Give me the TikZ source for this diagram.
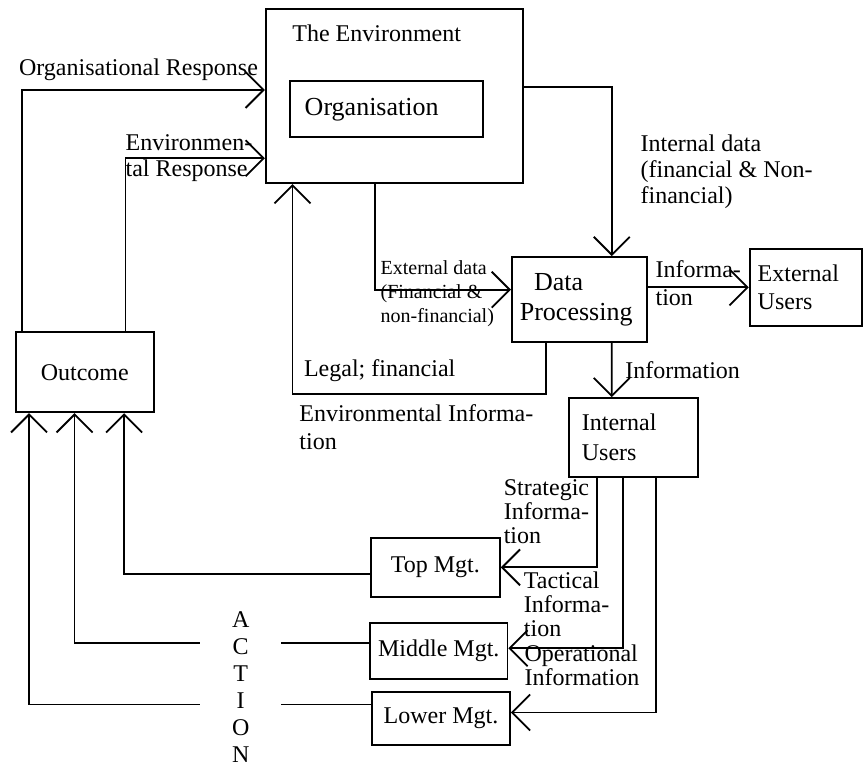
\documentclass[tikz,border=0pt]{standalone}
\usepackage{fontspec}
\setmainfont{Liberation Serif}
\usetikzlibrary{shapes.geometric, arrows, arrows.meta}

\begin{document}
\begin{tikzpicture}[node distance=3cm, line width=0.9pt, font=\fontsize{12}{14}\selectfont,
        >={Straight Barb[length=9pt, width=18pt]},
        box/.style={draw, rectangle, inner xsep=4pt},
        lbl/.style={align=left, inner sep=2pt, font=\fontsize{12}{13}\selectfont}]
        \useasboundingbox (0,0) rectangle (15.20,-13.51);

        \node[box, minimum width=4.52cm, minimum height=3.06cm] (env) at (6.93,-1.69) {};
        \node[node distance=1.11cm, above of=env, xshift=-0.31cm] (envtitle) {The Environment};
        \node[box, minimum height=0.98cm, text width=2.87cm, inner xsep=0.26cm, align=left, font=\fontsize{13}{15}\selectfont, node distance=0.23cm, below of=env, xshift=-0.14cm] (org) {Organisation};
        \node[box, minimum height=1.49cm, text width=2.09cm, align=left, font=\fontsize{13}{15}\selectfont, node distance=3.57cm, below of=env, xshift=3.25cm] (dp) {\hspace*{0.25cm}Data\\Processing};
        \node[box, minimum height=1.35cm, text width=1.69cm, align=left, node distance=3.98cm, right of=dp, yshift=0.21cm] (ext) {External\\Users};
        \node[box, minimum height=1.39cm, text width=1.81cm, inner xsep=0.23cm, align=left, font=\fontsize{12}{15}\selectfont, node distance=2.43cm, below of=dp, xshift=0.95cm] (intu) {Internal\\Users};
        \node[box, minimum width=2.42cm, minimum height=1.41cm, node distance=5.44cm, left of=env, yshift=-4.85cm] (outcome) {Outcome};
        \node[box, minimum width=2.27cm, minimum height=1.04cm, node distance=2.28cm, below of=intu, xshift=-3.48cm] (top) {Top Mgt.};
        \node[box, minimum width=2.35cm, minimum height=0.98cm, node distance=1.47cm, below of=top, xshift=0.06cm] (mid) {Middle Mgt.};
        \node[box, minimum width=2.42cm, minimum height=0.93cm, node distance=1.18cm, below of=mid, xshift=0.04cm] (low) {Lower Mgt.};
        \node[minimum width=1.4cm, inner ysep=0pt, align=center, font=\fontsize{12}{13.5}\selectfont, node distance=3.48cm, left of=mid, yshift=-0.63cm] (action) {A\\C\\T\\I\\O\\N};

        % responses of the outcome
        \draw[->] ([xshift=0.12cm]outcome.north west) |- ([yshift=0.11cm]env.west)
            node[pos=0.74, above, yshift=1pt] {Organisational Response};
        \draw[->] ([xshift=-0.51cm]outcome.north east) |- ([yshift=-1.09cm]env.west)
            node[pos=0.75, xshift=-0.11cm, lbl] {Environmen-\\tal Response};

        % data into processing
        \draw[->] ([yshift=0.16cm]env.east) -| ([xshift=0.57cm]dp.north)
            node[pos=0.75, right=12pt, lbl] {Internal data\\(financial \& Non-\\financial)};
        \draw[->] ([xshift=-0.34cm]env.south) |- ([yshift=0.17cm]dp.west)
            node[pos=0.75, xshift=-0.1cm, yshift=-0.07cm, lbl, font=\fontsize{10}{12}\selectfont] {External data\\(Financial \&\\non-financial)};
        \draw[->] (dp.east |- ext.west) -- (ext.west)
            node[midway, yshift=0.08cm, lbl, font=\fontsize{12}{14}\selectfont] {Informa-\\tion};
        \draw[->] ([xshift=0.57cm]dp.south) -- ([xshift=-0.38cm]intu.north)
            node[midway, right=3pt] {Information};
        \draw[->] ([xshift=-0.59cm]dp.south) -- ++(0,-0.9) -| ([xshift=-1.79cm]env.south)
            node[pos=0.5, above right, xshift=2pt, yshift=2.5pt] {Legal; financial}
            node[pos=0.5, below right, xshift=1pt, yshift=-3pt, lbl, font=\fontsize{12}{14}\selectfont] {Environmental Informa-\\tion};

        % information to the managers
        \draw[->] ([xshift=-0.64cm]intu.south) |- (top.east)
            node[pos=0.19, left=1.5pt, lbl, font=\fontsize{12}{12}\selectfont] {Strategic\\Informa-\\tion};
        \draw[->] ([xshift=-0.18cm]intu.south) |- ([yshift=0.05cm]mid.east)
            node[pos=0.37, left=4.5pt, lbl, font=\fontsize{12}{12}\selectfont] {Tactical\\Informa-\\tion};
        \draw[->] ([xshift=0.40cm]intu.south) |- ([yshift=0.1cm]low.east)
            node[pos=0.4, left=6pt, lbl, font=\fontsize{12}{12}\selectfont] {Operational\\Information};

        % action back to the outcome
        \draw[->] ([yshift=-0.11cm]top.west) -| ([xshift=0.69cm]outcome.south);
        \coordinate (midact) at ([yshift=0.14cm]mid.west);
        \coordinate (lowact) at ([yshift=0.24cm]low.west);
        \draw (midact) -- (midact -| action.east);
        \draw[->] (midact -| action.west) -| ([xshift=-0.18cm]outcome.south);
        \draw (lowact) -- (lowact -| action.east);
        \draw[->] (lowact -| action.west) -| ([xshift=-0.98cm]outcome.south);
    \end{tikzpicture}
\end{document}
